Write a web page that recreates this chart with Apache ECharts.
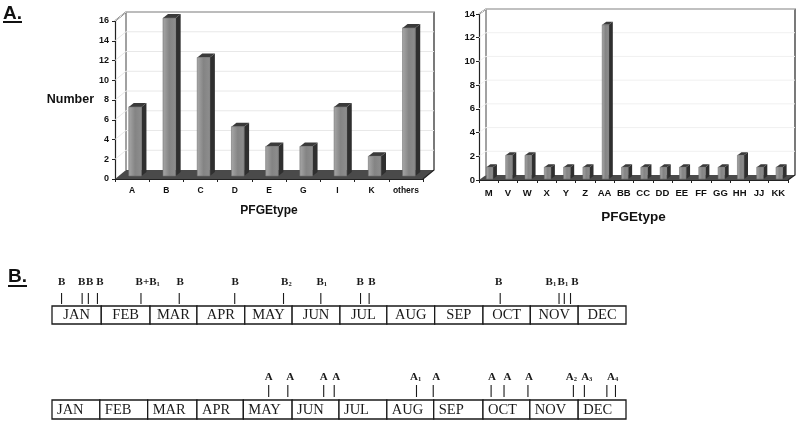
<!DOCTYPE html>
<html><head><meta charset="utf-8">
<style>html,body{margin:0;padding:0;background:#fff}#c{width:800px;height:421px}</style>
<script src="https://cdn.jsdelivr.net/npm/echarts@6/dist/echarts.min.js"></script>
</head><body><div id="c"></div>
<script>
// Chart A, left panel
const leftCategories = ['A','B','C','D','E','G','I','K','others'];
const leftValues = [7,16,12,5,3,3,7,2,15];
const leftTicks = [0,2,4,6,8,10,12,14,16];
// Chart A, right panel
const rightCategories = ['M','V','W','X','Y','Z','AA','BB','CC','DD','EE','FF','GG','HH','JJ','KK'];
const rightValues = [1,2,2,1,1,1,13,1,1,1,1,1,1,2,1,1];
const rightTicks = [0,2,4,6,8,10,12,14];
// Chart B timelines. Positions are in months from the start of January.
const months = ['JAN','FEB','MAR','APR','MAY','JUN','JUL','AUG','SEP','OCT','NOV','DEC'];
const topMonthEdges = [0,1.03,2.05,3.03,4.03,5.02,6.02,7.0,8.0,9.01,10.0,11.0,12];
const bottomMonthEdges = [0,1.0,2.0,3.03,4.0,5.02,6.0,7.0,7.98,9.01,9.99,11.0,12];
const topEvents = [0.2,0.63,0.76,0.95,1.86,2.66,3.82,4.84,5.62,6.45,6.63,9.37,10.6,10.71,10.84];
const topLabels = ['B','B','B','B','B+B|1','B','B','B|2','B|1','B','B','B','B|1','B|1','B'];
const topLabelPos = [0.2,0.62,0.79,1.0,2.0,2.68,3.83,4.9,5.64,6.44,6.69,9.34,10.43,10.68,10.93];
const bottomEvents = [4.53,4.93,5.68,5.9,7.62,7.97,9.18,9.45,9.95,10.9,11.13,11.6,11.78];
const bottomLabels = ['A','A','A','A','A|1','A','A','A','A','A|2','A|3','A|4'];
const bottomLabelPos = [4.53,4.98,5.68,5.94,7.6,8.03,9.2,9.52,9.97,10.86,11.18,11.72];

const sans = '"Liberation Sans"', serif = '"Liberation Serif"';

function wallSeries(gridIndex, ticks, depth, lineColor) {
  return {
    type: 'custom', xAxisIndex: gridIndex, yAxisIndex: gridIndex, silent: true, clip: false, z: 1,
    data: ticks.map(t => [0, t]),
    encode: { x: 0, y: 1 },
    renderItem(params, api) {
      const cs = params.coordSys, L = cs.x, R = cs.x + cs.width;
      const B = cs.y + cs.height, T = cs.y;
      const [dx, dy] = depth, tick = api.value(1), y = api.coord([0, tick])[1];
      const children = [];
      if (params.dataIndex === 0) {
        children.push(
          { type:'polygon', shape:{points:[[L,B],[R,B],[R+dx,B+dy],[L+dx,B+dy]]}, style:{fill:'#4a4a4a'} },
          { type:'polyline', shape:{points:[[L,T],[L+dx,T+dy],[R+dx,T+dy],[R+dx,B+dy],[R,B]]}, style:{fill:'none',stroke:'#222',lineWidth:1.2} },
          { type:'line', shape:{x1:L+dx,y1:T+dy,x2:L+dx,y2:B+dy}, style:{stroke:'#444',lineWidth:1} }
        );
      } else {
        children.push(
          { type:'polyline', shape:{points:[[L,y],[L+dx,y+dy],[R+dx,y+dy]]}, style:{fill:'none',stroke:lineColor,lineWidth:1} }
        );
      }
      return { type:'group', children };
    }
  };
}

function barSeries(gridIndex, values, widthRatio, offset, side, top) {
  return {
    type: 'custom', xAxisIndex: gridIndex, yAxisIndex: gridIndex, silent: true, clip: false, z: 3,
    data: values.map((v, i) => [i, v]),
    encode: { x: 0, y: 1 },
    renderItem(params, api) {
      const p = api.coord([api.value(0), api.value(1)]);
      const base = api.coord([api.value(0), 0]);
      const w = api.size([1, 0])[0] * widthRatio;
      const x0 = p[0] - w / 2 + offset[0], x1 = x0 + w;
      const yT = p[1] + offset[1], yB = base[1] + offset[1];
      return { type:'group', children:[
        { type:'polygon', shape:{points:[[x1,yT],[x1+side,yT-top],[x1+side,yB-top],[x1,yB]]}, style:{fill:'#2f2f2f'} },
        { type:'polygon', shape:{points:[[x0,yT],[x0+side,yT-top],[x1+side,yT-top],[x1,yT]]}, style:{fill:'#3a3a3a'} },
        { type:'rect', shape:{x:x0,y:yT,width:w,height:yB-yT},
          style:{fill:new echarts.graphic.LinearGradient(0,0,1,0,[
            {offset:0,color:'#a8a8a8'},{offset:0.5,color:'#848484'},{offset:1,color:'#8e8e8e'}]),
            stroke:'#6e6e6e',lineWidth:0.6} }
      ]};
    }
  };
}

function monthSeries(gridIndex, edges, centered, textInset) {
  return {
    type:'custom', xAxisIndex:gridIndex, yAxisIndex:gridIndex, silent:true, clip:false, z:3,
    data: months.map((m,i)=>[edges[i],edges[i+1],m]),
    encode:{x:[0,1]},
    renderItem(params, api){
      const a = api.coord([api.value(0),0]), b = api.coord([api.value(1),1]);
      const name = months[params.dataIndex];
      return { type:'group', children:[
        { type:'rect', shape:{x:a[0],y:b[1],width:b[0]-a[0],height:a[1]-b[1]}, style:{fill:'#fff',stroke:'#1a1a1a',lineWidth:1.3} },
        { type:'text', style:{
            x: centered ? (a[0]+b[0])/2 : a[0]+textInset, y:(a[1]+b[1])/2+0.5, text:name,
            align: centered?'center':'left', verticalAlign:'middle',
            font:'14.5px '+serif, fill:'#1a1a1a'} }
      ]};
    }
  };
}

function eventSeries(gridIndex, positions, gap, len) {
  return {
    type:'custom', xAxisIndex:gridIndex, yAxisIndex:gridIndex, silent:true, clip:false, z:3,
    data: positions.map(p=>[p,1]), encode:{x:0,y:1},
    renderItem(params, api){
      const p = api.coord([api.value(0),1]);
      return { type:'line', shape:{x1:p[0],y1:p[1]-gap,x2:p[0],y2:p[1]-gap-len}, style:{stroke:'#1a1a1a',lineWidth:1.1} };
    }
  };
}

function labelSeries(gridIndex, positions, labels, rise) {
  return {
    type:'custom', xAxisIndex:gridIndex, yAxisIndex:gridIndex, silent:true, clip:false, z:3,
    data: positions.map(p=>[p,1]), encode:{x:0,y:1},
    renderItem(params, api){
      const p = api.coord([api.value(0),1]);
      const parts = labels[params.dataIndex].split('|');
      const text = parts[1] ? '{m|'+parts[0]+'}{s|'+parts[1]+'}' : '{m|'+parts[0]+'}';
      return { type:'text', style:{ x:p[0], y:p[1]-rise, text, align:'center', verticalAlign:'middle',
        rich:{ m:{font:'bold 11px '+serif,fill:'#1a1a1a'}, s:{font:'bold 6.5px '+serif,fill:'#1a1a1a',padding:[5,0,0,0]} } } };
    }
  };
}

function catAxis(i, data, name, nameGap, fontSize, labelMargin, nameSize) {
  return { type:'category', gridIndex:i, data, boundaryGap:true,
    name, nameLocation:'middle', nameGap,
    nameTextStyle:{fontFamily:sans,fontWeight:'bold',fontSize:nameSize,color:'#111'},
    axisLine:{show:true,lineStyle:{color:'#222',width:1.2}},
    axisTick:{show:true,alignWithLabel:false,length:3,lineStyle:{color:'#222'}},
    axisLabel:{interval:0,margin:labelMargin,fontFamily:sans,fontSize,fontWeight:'bold',color:'#111'},
    splitLine:{show:false} };
}
function valAxis(i, ticks, fontSize, name, margin) {
  return { type:'value', gridIndex:i, min:ticks[0], max:ticks[ticks.length-1], interval:2,
    name, nameLocation:'middle', nameRotate:0, nameGap:21,
    nameTextStyle:{fontFamily:sans,fontWeight:'bold',fontSize:12.5,color:'#111'},
    axisLine:{show:true,lineStyle:{color:'#222',width:1.2}},
    axisTick:{show:true,length:3,lineStyle:{color:'#222'}},
    axisLabel:{margin,fontFamily:sans,fontSize,fontWeight:'bold',color:'#111'},
    splitLine:{show:false} };
}
function hiddenX(i){ return {type:'value',gridIndex:i,min:0,max:12,show:false}; }
function hiddenY(i){ return {type:'value',gridIndex:i,min:0,max:1,show:false}; }

const option = {
  backgroundColor:'#fff', animation:false,
  grid:[
    {left:115,top:21,width:308,height:158},
    {left:479,top:14,width:309,height:166},
    {left:52,top:306,width:574,height:18},
    {left:52,top:400,width:574,height:19}
  ],
  xAxis:[ catAxis(0,leftCategories,'PFGEtype',26,8.5,7,12), catAxis(1,rightCategories,'PFGEtype',30,9.5,8,13.5), hiddenX(2), hiddenX(3) ],
  yAxis:[ valAxis(0,leftTicks,9,'Number',6), valAxis(1,rightTicks,9.5,'',4), hiddenY(2), hiddenY(3) ],
  series:[
    wallSeries(0,leftTicks,[11,-9],'#e8e8e8'),
    wallSeries(1,rightTicks,[7,-5],'#f0f0f0'),
    barSeries(0,leftValues,0.37,[3,-3],5,4),
    barSeries(1,rightValues,0.34,[1,-1],4,3),
    monthSeries(2,topMonthEdges,true,0),
    monthSeries(3,bottomMonthEdges,false,5),
    eventSeries(2,topEvents,2,11),
    eventSeries(3,bottomEvents,3,12),
    labelSeries(2,topLabelPos,topLabels,24),
    labelSeries(3,bottomLabelPos,bottomLabels,23)
  ],
  graphic:[
    {type:'text',left:3,top:4,style:{text:'A.',font:'bold 19px '+sans,fill:'#111'}},
    {type:'rect',shape:{x:3,y:21,width:19,height:2},style:{fill:'#111'}},
    {type:'text',left:8,top:267,style:{text:'B.',font:'bold 19px '+sans,fill:'#111'}},
    {type:'rect',shape:{x:8,y:285,width:19,height:2},style:{fill:'#111'}}
  ]
};
const chart = echarts.init(document.getElementById('c'),null,{renderer:'canvas'});
chart.setOption(option);
</script></body></html>
